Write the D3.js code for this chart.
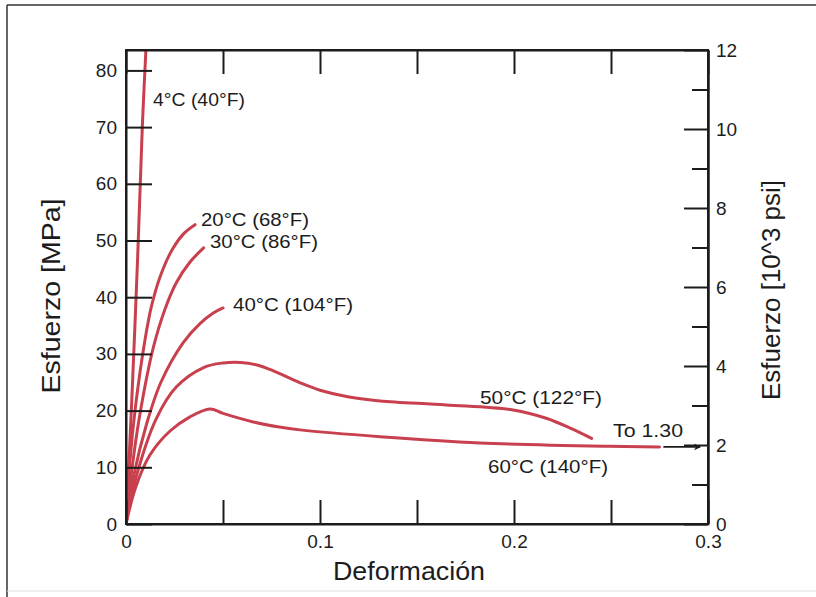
<!DOCTYPE html>
<html><head><meta charset="utf-8">
<script src="https://cdn.jsdelivr.net/npm/d3@7"></script>
<style>html,body{margin:0;padding:0;background:#fff}</style>
</head><body><svg id="c" width="816" height="597" xmlns="http://www.w3.org/2000/svg"></svg>
<script>
// ---- data (strain, stress in MPa) ----
const seriesNames = ["4°C (40°F)", "20°C (68°F)", "30°C (86°F)", "40°C (104°F)", "50°C (122°F)", "60°C (140°F)"];
const strain4C  = [0, 0.003, 0.006, 0.0084, 0.0106];
const stress4C  = [0, 22, 47, 70, 86];
const strain20C = [0, 0.002, 0.005, 0.0098, 0.0132, 0.018, 0.024, 0.030, 0.0356];
const stress20C = [0, 11, 21, 32.5, 38.5, 44, 48.5, 51.3, 52.8];
const strain30C = [0, 0.003, 0.007, 0.014, 0.020, 0.026, 0.033, 0.040];
const stress30C = [0, 9.5, 19, 31, 37.8, 42.6, 46.2, 48.7];
const strain40C = [0, 0.004, 0.0105, 0.018, 0.0295, 0.038, 0.045, 0.050];
const stress40C = [0, 8.5, 17.5, 25, 32, 35.3, 37.2, 38.1];
const strain50C = [0, 0.005, 0.0155, 0.026, 0.040, 0.050, 0.059, 0.068, 0.076, 0.0897, 0.100, 0.115, 0.131, 0.165, 0.1995, 0.217, 0.229, 0.240];
const stress50C = [0, 8, 18.5, 24.2, 27.6, 28.4, 28.5, 28.0, 27.0, 24.9, 23.6, 22.4, 21.7, 21.0, 20.1, 18.6, 16.9, 15.1];
const strain60C = [0, 0.005, 0.0124, 0.0227, 0.033, 0.0433, 0.050, 0.0656, 0.079, 0.0897, 0.131, 0.1825, 0.249, 0.275];
const stress60C = [0, 6.5, 12.2, 16.4, 18.9, 20.3, 19.5, 18.0, 17.1, 16.6, 15.4, 14.3, 13.7, 13.6];
const arrowStrain = [0.277, 0.296];
const arrowStress = [13.6, 13.6];
const arrowLabel = "To 1.30";

const xTickValues = [0, 0.05, 0.1, 0.15, 0.2, 0.25, 0.3];
const xTickLabels = ["0", "", "0.1", "", "0.2", "", "0.3"];
const yTicksMPa = [0, 10, 20, 30, 40, 50, 60, 70, 80];
const yTicksKsiMajor = [0, 2, 4, 6, 8, 10, 12];
const yTicksKsiMinor = [1, 3, 5, 7, 9, 11];
const xTitle = "Deformación";
const yTitleLeft = "Esfuerzo [MPa]";
const yTitleRight = "Esfuerzo [10^3 psi]";

// ---- layout ----
const W = 816, H = 597;
const P = {l: 126, r: 708, t: 50, b: 524};
const lineColor = "#c8404e";
const ink = "#1c1c1c";
const font = "'Liberation Sans', Arial, sans-serif";
// label placement (pixels) and measured text widths
const labelLayout = [
  {x: 153, y: 106, w: 92},
  {x: 201, y: 226, w: 108},
  {x: 210, y: 248, w: 108},
  {x: 233, y: 311, w: 120},
  {x: 480, y: 404, w: 122},
  {x: 488, y: 473, w: 120}
];

const svg = d3.select("#c");
svg.append("rect").attr("width", W).attr("height", H).attr("fill", "#fff");
// frame
svg.append("line").attr("x1", 7).attr("x2", W + 5).attr("y1", 5).attr("y2", 5).attr("stroke", "#333").attr("stroke-width", 1.5);
svg.append("line").attr("x1", 7).attr("x2", 7).attr("y1", 5).attr("y2", H + 5).attr("stroke", "#333").attr("stroke-width", 1.5);
svg.append("line").attr("x1", 7).attr("x2", W).attr("y1", 591).attr("y2", 591).attr("stroke", "#ddd").attr("stroke-width", 1);

const x = d3.scaleLinear().domain([0, 0.3]).range([P.l, P.r]);
const yL = d3.scaleLinear().domain([0, 83.6]).range([P.b, P.t]);
const yR = d3.scaleLinear().domain([0, 12]).range([P.b, P.t]);

svg.append("defs").append("clipPath").attr("id", "plot")
  .append("rect").attr("x", P.l).attr("y", P.t).attr("width", P.r - P.l).attr("height", P.b - P.t);

// curves
const strains = [strain4C, strain20C, strain30C, strain40C, strain50C, strain60C];
const stresses = [stress4C, stress20C, stress30C, stress40C, stress50C, stress60C];
const line = d3.line().x(d => x(d[0])).y(d => yL(d[1])).curve(d3.curveCatmullRom.alpha(0.5));
const gc = svg.append("g").attr("clip-path", "url(#plot)");
strains.forEach((s, i) => {
  const pts = s.map((v, j) => [v, stresses[i][j]]);
  gc.append("path").attr("d", line(pts)).attr("fill", "none")
    .attr("stroke", lineColor).attr("stroke-width", 3).attr("stroke-linejoin", "round").attr("stroke-linecap", "round");
});

// axes
function styleAxis(g) {
  g.selectAll("path,line").attr("stroke", ink).attr("stroke-width", 2);
  g.selectAll("text").attr("fill", ink).style("font-family", font).style("font-size", "19px");
}
svg.append("g").attr("transform", `translate(0,${P.b})`)
  .call(d3.axisBottom(x).tickValues(xTickValues).tickSize(-24).tickSizeOuter(0).tickPadding(11)
    .tickFormat((d, i) => xTickLabels[i]))
  .call(styleAxis);
svg.append("g").attr("transform", `translate(0,${P.t})`)
  .call(d3.axisTop(x).tickValues(xTickValues).tickSize(-24).tickSizeOuter(0).tickFormat(""))
  .call(styleAxis);
svg.append("g").attr("transform", `translate(${P.l},0)`)
  .call(d3.axisLeft(yL).tickValues(yTicksMPa).tickSize(-26).tickSizeOuter(0).tickPadding(9))
  .call(styleAxis);
svg.append("g").attr("transform", `translate(${P.r},0)`)
  .call(d3.axisRight(yR).tickValues(yTicksKsiMinor).tickSize(-16).tickSizeOuter(0).tickFormat(""))
  .call(styleAxis);
svg.append("g").attr("transform", `translate(${P.r},0)`)
  .call(d3.axisRight(yR).tickValues(yTicksKsiMajor).tickSize(-24).tickSizeOuter(0).tickPadding(8))
  .call(styleAxis);
svg.append("rect").attr("x", P.l).attr("y", P.t).attr("width", P.r - P.l).attr("height", P.b - P.t)
  .attr("fill", "none").attr("stroke", ink).attr("stroke-width", 2);

// curve labels
labelLayout.forEach((L, i) => {
  svg.append("text").attr("x", L.x).attr("y", L.y).text(seriesNames[i])
    .attr("textLength", L.w).attr("lengthAdjust", "spacingAndGlyphs")
    .attr("fill", ink).style("font-family", font).style("font-size", "18.5px");
});

// arrow
const defs = svg.select("defs");
defs.append("marker").attr("id", "ah").attr("viewBox", "0 0 10 10").attr("refX", 9).attr("refY", 5)
  .attr("markerWidth", 7).attr("markerHeight", 7).attr("markerUnits", "userSpaceOnUse").attr("orient", "auto")
  .append("path").attr("d", "M0,0 L10,5 L0,10 L3,5 Z").attr("fill", ink);
svg.append("line").attr("x1", x(arrowStrain[0])).attr("x2", x(arrowStrain[1]))
  .attr("y1", yL(arrowStress[0])).attr("y2", yL(arrowStress[1]))
  .attr("stroke", ink).attr("stroke-width", 1.6).attr("marker-end", "url(#ah)");
svg.append("text").attr("x", 613).attr("y", 437).text(arrowLabel)
  .attr("textLength", 70).attr("lengthAdjust", "spacingAndGlyphs")
  .attr("fill", ink).style("font-family", font).style("font-size", "18.5px");

// titles
svg.append("text").attr("x", 409).attr("y", 580).attr("text-anchor", "middle").text(xTitle)
  .attr("textLength", 152).attr("lengthAdjust", "spacingAndGlyphs")
  .attr("fill", ink).style("font-family", font).style("font-size", "25px");
svg.append("text").attr("transform", "translate(60,296) rotate(-90)").attr("text-anchor", "middle").text(yTitleLeft)
  .attr("textLength", 195).attr("lengthAdjust", "spacingAndGlyphs")
  .attr("fill", ink).style("font-family", font).style("font-size", "25px");
svg.append("text").attr("transform", "translate(780,290) rotate(-90)").attr("text-anchor", "middle").text(yTitleRight)
  .attr("textLength", 220).attr("lengthAdjust", "spacingAndGlyphs")
  .attr("fill", ink).style("font-family", font).style("font-size", "25px");
</script></body></html>
